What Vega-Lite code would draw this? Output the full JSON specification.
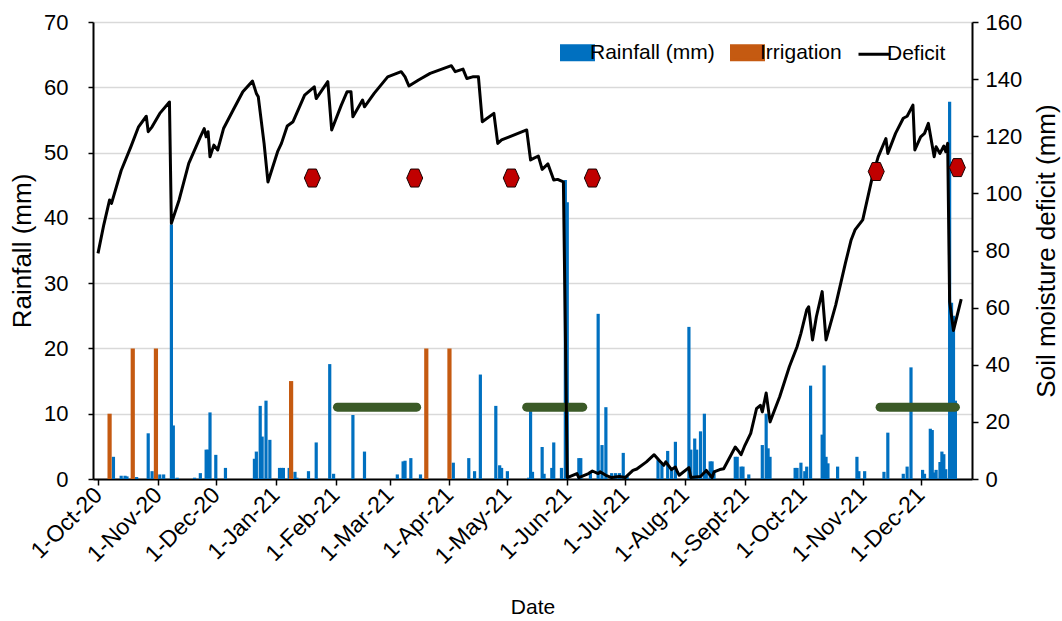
{
  "$schema": "https://vega.github.io/schema/vega-lite/v6.json",
  "width": 879,
  "height": 457,
  "autosize": {"type": "none"},
  "padding": {"left": 93, "top": 22, "right": 90, "bottom": 142},
  "background": "white",
  "config": {
    "font": "Liberation Sans",
    "view": {"stroke": null},
    "axis": {
      "domainColor": "#000000", "domainWidth": 2,
      "tickColor": "#000000", "tickWidth": 1.5, "tickSize": 6,
      "labelColor": "#000000", "labelFont": "Liberation Sans", "labelFontSize": 22,
      "titleFont": "Liberation Sans", "titleFontSize": 26, "titleFontWeight": "normal", "titleColor": "#000000",
      "gridColor": "#D9D9D9", "gridWidth": 1.3
    }
  },
  "datasets": {
    "rain": [
      {"date": "2020-10-09", "mm": 3.4}, {"date": "2020-10-13", "mm": 0.5}, {"date": "2020-10-15", "mm": 0.5},
      {"date": "2020-10-16", "mm": 0.4}, {"date": "2020-10-21", "mm": 0.3}, {"date": "2020-10-27", "mm": 7.0},
      {"date": "2020-10-29", "mm": 1.2}, {"date": "2020-11-02", "mm": 0.7}, {"date": "2020-11-04", "mm": 0.7},
      {"date": "2020-11-08", "mm": 39.0}, {"date": "2020-11-09", "mm": 8.2}, {"date": "2020-11-11", "mm": 0.2},
      {"date": "2020-11-20", "mm": 0.2}, {"date": "2020-11-23", "mm": 0.9}, {"date": "2020-11-26", "mm": 4.5},
      {"date": "2020-11-27", "mm": 4.5}, {"date": "2020-11-28", "mm": 10.2}, {"date": "2020-12-01", "mm": 3.7},
      {"date": "2020-12-06", "mm": 1.7}, {"date": "2020-12-21", "mm": 3.1}, {"date": "2020-12-22", "mm": 4.2},
      {"date": "2020-12-24", "mm": 11.2}, {"date": "2020-12-25", "mm": 6.5}, {"date": "2020-12-27", "mm": 12.0},
      {"date": "2020-12-29", "mm": 6.0}, {"date": "2021-01-03", "mm": 1.7}, {"date": "2021-01-04", "mm": 1.7},
      {"date": "2021-01-05", "mm": 1.7}, {"date": "2021-01-08", "mm": 1.7}, {"date": "2021-01-11", "mm": 1.1},
      {"date": "2021-01-12", "mm": 0.2}, {"date": "2021-01-18", "mm": 1.2}, {"date": "2021-01-22", "mm": 5.6},
      {"date": "2021-01-29", "mm": 17.6}, {"date": "2021-01-31", "mm": 0.8}, {"date": "2021-02-10", "mm": 9.8},
      {"date": "2021-02-16", "mm": 4.2}, {"date": "2021-03-05", "mm": 0.7}, {"date": "2021-03-08", "mm": 2.7},
      {"date": "2021-03-09", "mm": 2.8}, {"date": "2021-03-12", "mm": 3.2}, {"date": "2021-03-17", "mm": 0.7},
      {"date": "2021-04-03", "mm": 2.5}, {"date": "2021-04-11", "mm": 3.2}, {"date": "2021-04-14", "mm": 1.2},
      {"date": "2021-04-17", "mm": 16.0}, {"date": "2021-04-25", "mm": 11.2}, {"date": "2021-04-27", "mm": 2.1},
      {"date": "2021-04-28", "mm": 1.7}, {"date": "2021-05-01", "mm": 1.2}, {"date": "2021-05-12", "mm": 0.2},
      {"date": "2021-05-13", "mm": 10.4}, {"date": "2021-05-14", "mm": 1.1}, {"date": "2021-05-19", "mm": 4.9},
      {"date": "2021-05-20", "mm": 0.8}, {"date": "2021-05-24", "mm": 1.7}, {"date": "2021-05-25", "mm": 5.6},
      {"date": "2021-05-29", "mm": 1.7}, {"date": "2021-05-31", "mm": 45.8}, {"date": "2021-06-01", "mm": 42.4},
      {"date": "2021-06-07", "mm": 3.2}, {"date": "2021-06-08", "mm": 3.2}, {"date": "2021-06-13", "mm": 1.1},
      {"date": "2021-06-17", "mm": 25.3}, {"date": "2021-06-19", "mm": 5.2}, {"date": "2021-06-21", "mm": 11.0},
      {"date": "2021-06-24", "mm": 0.9}, {"date": "2021-06-26", "mm": 0.9}, {"date": "2021-06-28", "mm": 0.9},
      {"date": "2021-06-30", "mm": 4.0}, {"date": "2021-07-02", "mm": 0.4}, {"date": "2021-07-18", "mm": 2.9},
      {"date": "2021-07-20", "mm": 2.3}, {"date": "2021-07-23", "mm": 4.3}, {"date": "2021-07-25", "mm": 1.4},
      {"date": "2021-07-27", "mm": 5.7}, {"date": "2021-08-03", "mm": 23.3}, {"date": "2021-08-04", "mm": 4.5},
      {"date": "2021-08-06", "mm": 6.2}, {"date": "2021-08-07", "mm": 4.5}, {"date": "2021-08-09", "mm": 7.3},
      {"date": "2021-08-11", "mm": 10.0}, {"date": "2021-08-12", "mm": 1.2}, {"date": "2021-08-14", "mm": 2.7},
      {"date": "2021-08-15", "mm": 2.7}, {"date": "2021-08-16", "mm": 1.3}, {"date": "2021-08-27", "mm": 3.4},
      {"date": "2021-08-28", "mm": 3.4}, {"date": "2021-08-30", "mm": 1.9}, {"date": "2021-08-31", "mm": 1.9},
      {"date": "2021-09-03", "mm": 0.7}, {"date": "2021-09-10", "mm": 5.2}, {"date": "2021-09-12", "mm": 10.0},
      {"date": "2021-09-13", "mm": 4.7}, {"date": "2021-09-14", "mm": 3.4}, {"date": "2021-09-27", "mm": 1.7},
      {"date": "2021-09-28", "mm": 1.7}, {"date": "2021-09-30", "mm": 2.5}, {"date": "2021-10-02", "mm": 1.2},
      {"date": "2021-10-03", "mm": 1.9}, {"date": "2021-10-05", "mm": 14.3}, {"date": "2021-10-11", "mm": 6.8},
      {"date": "2021-10-12", "mm": 17.4}, {"date": "2021-10-13", "mm": 3.4}, {"date": "2021-10-14", "mm": 2.4},
      {"date": "2021-10-19", "mm": 1.9}, {"date": "2021-10-29", "mm": 3.4}, {"date": "2021-10-30", "mm": 1.2},
      {"date": "2021-11-02", "mm": 1.2}, {"date": "2021-11-12", "mm": 1.1}, {"date": "2021-11-14", "mm": 7.1},
      {"date": "2021-11-22", "mm": 0.8}, {"date": "2021-11-24", "mm": 1.9}, {"date": "2021-11-26", "mm": 17.1},
      {"date": "2021-12-02", "mm": 1.4}, {"date": "2021-12-03", "mm": 0.8}, {"date": "2021-12-06", "mm": 7.7},
      {"date": "2021-12-07", "mm": 7.5}, {"date": "2021-12-08", "mm": 1.0}, {"date": "2021-12-09", "mm": 1.4},
      {"date": "2021-12-11", "mm": 2.6}, {"date": "2021-12-12", "mm": 4.2}, {"date": "2021-12-13", "mm": 3.8},
      {"date": "2021-12-14", "mm": 1.5}, {"date": "2021-12-16", "mm": 57.8}, {"date": "2021-12-17", "mm": 27.0},
      {"date": "2021-12-18", "mm": 25.0}, {"date": "2021-12-19", "mm": 12.0}
    ],
    "irrigation": [
      {"date": "2020-10-07", "mm": 10}, {"date": "2020-10-19", "mm": 20}, {"date": "2020-10-31", "mm": 20},
      {"date": "2021-01-09", "mm": 15}, {"date": "2021-03-20", "mm": 20}, {"date": "2021-04-01", "mm": 20}
    ],
    "periods": [
      {"date": "2021-02-02", "end": "2021-03-15", "mm": 11},
      {"date": "2021-05-11", "end": "2021-06-09", "mm": 11},
      {"date": "2021-11-10", "end": "2021-12-19", "mm": 11}
    ],
    "markers": [
      {"date": "2021-01-20", "mm": 46.1}, {"date": "2021-03-14", "mm": 46.1}, {"date": "2021-05-03", "mm": 46.1},
      {"date": "2021-06-14", "mm": 46.1}, {"date": "2021-11-08", "mm": 47.1}, {"date": "2021-12-20", "mm": 47.7}
    ],
    "deficit": [
      {"date": "2020-10-01", "deficit": 79}, {"date": "2020-10-04", "deficit": 89}, {"date": "2020-10-07", "deficit": 97.7},
      {"date": "2020-10-08", "deficit": 96.5}, {"date": "2020-10-13", "deficit": 108}, {"date": "2020-10-18", "deficit": 116.3},
      {"date": "2020-10-22", "deficit": 123.3}, {"date": "2020-10-26", "deficit": 127}, {"date": "2020-10-27", "deficit": 121.6},
      {"date": "2020-10-29", "deficit": 123.3}, {"date": "2020-11-02", "deficit": 128}, {"date": "2020-11-07", "deficit": 132},
      {"date": "2020-11-08", "deficit": 89.5}, {"date": "2020-11-12", "deficit": 97.7}, {"date": "2020-11-17", "deficit": 110.5},
      {"date": "2020-11-23", "deficit": 119.8}, {"date": "2020-11-25", "deficit": 122.7}, {"date": "2020-11-26", "deficit": 119.8},
      {"date": "2020-11-27", "deficit": 121.6}, {"date": "2020-11-28", "deficit": 112.8}, {"date": "2020-11-30", "deficit": 116.9},
      {"date": "2020-12-02", "deficit": 115.2}, {"date": "2020-12-05", "deficit": 122.7}, {"date": "2020-12-10", "deficit": 129.2},
      {"date": "2020-12-15", "deficit": 135.6}, {"date": "2020-12-20", "deficit": 139.3}, {"date": "2020-12-22", "deficit": 135},
      {"date": "2020-12-23", "deficit": 133.8}, {"date": "2020-12-26", "deficit": 117.5}, {"date": "2020-12-28", "deficit": 104},
      {"date": "2021-01-02", "deficit": 114.6}, {"date": "2021-01-04", "deficit": 117.5}, {"date": "2021-01-07", "deficit": 123.6},
      {"date": "2021-01-10", "deficit": 125.1}, {"date": "2021-01-16", "deficit": 134.4}, {"date": "2021-01-21", "deficit": 137.3},
      {"date": "2021-01-22", "deficit": 133.2}, {"date": "2021-01-28", "deficit": 139.1}, {"date": "2021-01-30", "deficit": 122.2},
      {"date": "2021-02-04", "deficit": 130.9}, {"date": "2021-02-07", "deficit": 135.6}, {"date": "2021-02-09", "deficit": 135.6},
      {"date": "2021-02-10", "deficit": 126.8}, {"date": "2021-02-15", "deficit": 132.7}, {"date": "2021-02-16", "deficit": 130.3},
      {"date": "2021-02-21", "deficit": 135}, {"date": "2021-02-28", "deficit": 140.8}, {"date": "2021-03-07", "deficit": 142.6},
      {"date": "2021-03-09", "deficit": 140.8}, {"date": "2021-03-11", "deficit": 137.6}, {"date": "2021-03-16", "deficit": 139.7},
      {"date": "2021-03-22", "deficit": 142}, {"date": "2021-04-02", "deficit": 144.7}, {"date": "2021-04-04", "deficit": 142.6},
      {"date": "2021-04-08", "deficit": 143.5}, {"date": "2021-04-10", "deficit": 140.2}, {"date": "2021-04-13", "deficit": 140.8},
      {"date": "2021-04-16", "deficit": 140.8}, {"date": "2021-04-18", "deficit": 125.1}, {"date": "2021-04-24", "deficit": 128},
      {"date": "2021-04-26", "deficit": 117.5}, {"date": "2021-04-28", "deficit": 118.7}, {"date": "2021-05-02", "deficit": 119.8},
      {"date": "2021-05-11", "deficit": 122.2}, {"date": "2021-05-13", "deficit": 111.7}, {"date": "2021-05-17", "deficit": 113.1},
      {"date": "2021-05-19", "deficit": 108.4}, {"date": "2021-05-22", "deficit": 110.3}, {"date": "2021-05-25", "deficit": 104.7},
      {"date": "2021-05-27", "deficit": 104.9}, {"date": "2021-05-30", "deficit": 104}, {"date": "2021-06-01", "deficit": 0.5},
      {"date": "2021-06-06", "deficit": 1.9}, {"date": "2021-06-07", "deficit": 0.5}, {"date": "2021-06-12", "deficit": 1.9},
      {"date": "2021-06-14", "deficit": 2.8}, {"date": "2021-06-17", "deficit": 1.9}, {"date": "2021-06-18", "deficit": 2.5},
      {"date": "2021-06-21", "deficit": 1.3}, {"date": "2021-06-24", "deficit": 0.5}, {"date": "2021-06-28", "deficit": 0.9},
      {"date": "2021-07-01", "deficit": 0.5}, {"date": "2021-07-05", "deficit": 3}, {"date": "2021-07-07", "deficit": 3.5},
      {"date": "2021-07-12", "deficit": 6}, {"date": "2021-07-16", "deficit": 8.5}, {"date": "2021-07-19", "deficit": 6.2},
      {"date": "2021-07-21", "deficit": 4.8}, {"date": "2021-07-22", "deficit": 6}, {"date": "2021-07-25", "deficit": 3.3},
      {"date": "2021-07-27", "deficit": 4.2}, {"date": "2021-07-28", "deficit": 2.5}, {"date": "2021-07-29", "deficit": 1.3},
      {"date": "2021-08-03", "deficit": 4}, {"date": "2021-08-04", "deficit": 0.5}, {"date": "2021-08-09", "deficit": 0.9},
      {"date": "2021-08-12", "deficit": 3}, {"date": "2021-08-15", "deficit": 0.5}, {"date": "2021-08-16", "deficit": 2.5},
      {"date": "2021-08-19", "deficit": 3.3}, {"date": "2021-08-21", "deficit": 3.6}, {"date": "2021-08-27", "deficit": 11.2},
      {"date": "2021-08-29", "deficit": 9.5}, {"date": "2021-08-30", "deficit": 8.5}, {"date": "2021-09-01", "deficit": 11.8},
      {"date": "2021-09-04", "deficit": 16}, {"date": "2021-09-07", "deficit": 24.6}, {"date": "2021-09-09", "deficit": 25.8},
      {"date": "2021-09-10", "deficit": 23.5}, {"date": "2021-09-12", "deficit": 30.1}, {"date": "2021-09-14", "deficit": 20},
      {"date": "2021-09-19", "deficit": 28.8}, {"date": "2021-09-24", "deficit": 39.3}, {"date": "2021-09-28", "deficit": 46.3},
      {"date": "2021-09-30", "deficit": 51}, {"date": "2021-10-03", "deficit": 59.2}, {"date": "2021-10-04", "deficit": 60.3},
      {"date": "2021-10-06", "deficit": 48.7}, {"date": "2021-10-08", "deficit": 56.8}, {"date": "2021-10-11", "deficit": 65.6},
      {"date": "2021-10-13", "deficit": 48.7}, {"date": "2021-10-18", "deficit": 60.9}, {"date": "2021-10-23", "deficit": 75.5},
      {"date": "2021-10-26", "deficit": 83.7}, {"date": "2021-10-28", "deficit": 87.2}, {"date": "2021-11-01", "deficit": 90.7},
      {"date": "2021-11-06", "deficit": 105.8}, {"date": "2021-11-09", "deficit": 112.8}, {"date": "2021-11-13", "deficit": 119.2},
      {"date": "2021-11-14", "deficit": 114}, {"date": "2021-11-18", "deficit": 121}, {"date": "2021-11-22", "deficit": 126.3},
      {"date": "2021-11-24", "deficit": 127}, {"date": "2021-11-27", "deficit": 130.9}, {"date": "2021-11-28", "deficit": 115.2},
      {"date": "2021-12-01", "deficit": 119.8}, {"date": "2021-12-03", "deficit": 121}, {"date": "2021-12-05", "deficit": 124.5},
      {"date": "2021-12-08", "deficit": 112.8}, {"date": "2021-12-09", "deficit": 116.3}, {"date": "2021-12-11", "deficit": 114},
      {"date": "2021-12-13", "deficit": 116.6}, {"date": "2021-12-14", "deficit": 114.6}, {"date": "2021-12-15", "deficit": 117.5},
      {"date": "2021-12-16", "deficit": 62}, {"date": "2021-12-18", "deficit": 52}, {"date": "2021-12-22", "deficit": 63}
    ]
  },
  "encoding": {
    "x": {
      "field": "date", "type": "temporal",
      "scale": {"type": "utc", "domain": [{"year": 2020, "month": 10, "date": 1, "utc": true}, {"year": 2021, "month": 12, "date": 25, "utc": true}]},
      "axis": {
        "title": "Date", "titleFontSize": 21, "titleY": 128, "titleBaseline": "middle",
        "grid": false,
        "values": [
          {"year": 2020, "month": 10, "date": 1, "utc": true}, {"year": 2020, "month": 11, "date": 1, "utc": true},
          {"year": 2020, "month": 12, "date": 1, "utc": true}, {"year": 2021, "month": 1, "date": 1, "utc": true},
          {"year": 2021, "month": 2, "date": 1, "utc": true}, {"year": 2021, "month": 3, "date": 1, "utc": true},
          {"year": 2021, "month": 4, "date": 1, "utc": true}, {"year": 2021, "month": 5, "date": 1, "utc": true},
          {"year": 2021, "month": 6, "date": 1, "utc": true}, {"year": 2021, "month": 7, "date": 1, "utc": true},
          {"year": 2021, "month": 8, "date": 1, "utc": true}, {"year": 2021, "month": 9, "date": 1, "utc": true},
          {"year": 2021, "month": 10, "date": 1, "utc": true}, {"year": 2021, "month": 11, "date": 1, "utc": true},
          {"year": 2021, "month": 12, "date": 1, "utc": true}
        ],
        "labelExpr": "'1-' + (utcmonth(datum.value) == 8 ? 'Sept' : utcFormat(datum.value, '%b')) + '-' + utcFormat(datum.value, '%y')",
        "labelAngle": -45, "labelAlign": "right", "labelBaseline": "middle", "labelPadding": 6, "labelFontSize": 23,
        "labelOverlap": false, "labelFlush": false
      }
    }
  },
  "layer": [
    {
      "layer": [
        {
          "data": {"name": "rain"},
          "mark": {"type": "bar", "size": 3.2},
          "encoding": {
            "y": {
              "field": "mm", "type": "quantitative",
              "scale": {"domain": [0, 70], "nice": false},
              "axis": {
                "title": "Rainfall (mm)", "values": [0, 10, 20, 30, 40, 50, 60, 70], "grid": true,
                "tickSize": 5, "labelPadding": 20,
                "titleX": -71, "titleY": 228.5, "titleAngle": 270, "titleBaseline": "middle", "titleAlign": "center"
              }
            },
            "color": {
              "datum": "Rainfall (mm)", "type": "nominal",
              "scale": {"domain": ["Rainfall (mm)", "Irrigation", "Deficit"], "range": ["#0070C0", "#C55A11", "#000000"]},
              "legend": {
                "title": null, "orient": "none", "legendX": 474, "legendY": 20, "direction": "horizontal",
                "padding": 0, "columnPadding": 10, "labelOffset": 2,
                "labelFont": "Liberation Sans", "labelFontSize": 21, "labelColor": "#000000",
                "symbolSize": 1024,
                "encode": {
                  "symbols": {
                    "enter": {
                      "shape": {"signal": "datum.value === 'Deficit' ? 'M-1,0L1,0' : 'M-1,-0.44L1,-0.44L1,0.44L-1,0.44Z'"},
                      "fill": {"signal": "datum.value === 'Deficit' ? 'transparent' : (datum.value === 'Irrigation' ? '#ED7D31' : '#0070C0')"},
                      "stroke": {"signal": "datum.value === 'Deficit' ? '#000000' : (datum.value === 'Irrigation' ? '#C55A11' : '#0070C0')"},
                      "strokeWidth": {"signal": "datum.value === 'Deficit' ? 3 : 3"}
                    },
                    "update": {
                      "shape": {"signal": "datum.value === 'Deficit' ? 'M-1,0L1,0' : 'M-1,-0.44L1,-0.44L1,0.44L-1,0.44Z'"},
                      "fill": {"signal": "datum.value === 'Deficit' ? 'transparent' : (datum.value === 'Irrigation' ? '#ED7D31' : '#0070C0')"},
                      "stroke": {"signal": "datum.value === 'Deficit' ? '#000000' : (datum.value === 'Irrigation' ? '#C55A11' : '#0070C0')"},
                      "strokeWidth": {"signal": "datum.value === 'Deficit' ? 3 : 3"},
                      "opacity": {"value": 1}
                    }
                  }
                }
              }
            }
          }
        },
        {
          "data": {"name": "irrigation"},
          "mark": {"type": "bar", "size": 4.2, "color": "#C55A11"},
          "encoding": {"y": {"field": "mm", "type": "quantitative"}}
        },
        {
          "data": {"name": "periods"},
          "mark": {"type": "rule", "strokeWidth": 9, "strokeCap": "round", "color": "#3B5A27"},
          "encoding": {"x2": {"field": "end"}, "y": {"field": "mm", "type": "quantitative"}}
        }
      ]
    },
    {
      "data": {"name": "deficit"},
      "mark": {"type": "line", "color": "#000000", "strokeWidth": 3, "strokeJoin": "round"},
      "encoding": {
        "y": {
          "field": "deficit", "type": "quantitative",
          "scale": {"domain": [0, 160], "nice": false},
          "axis": {
            "orient": "right", "title": "Soil moisture deficit (mm)", "values": [0, 20, 40, 60, 80, 100, 120, 140, 160],
            "grid": false, "tickSize": 6, "labelPadding": 7,
            "titleX": 74, "titleY": 228.5, "titleAngle": 270, "titleBaseline": "middle", "titleAlign": "center"
          }
        }
      }
    },
    {
      "data": {"name": "markers"},
      "mark": {"type": "point", "filled": true, "shape": "M-0.89,0L-0.45,-1L0.45,-1L0.89,0L0.45,1L-0.45,1Z", "size": 324, "fill": "#C00000", "stroke": "#1A0000", "strokeWidth": 1, "opacity": 1},
      "encoding": {
        "y": {"field": "mm", "type": "quantitative", "scale": {"domain": [0, 70], "nice": false}, "axis": null}
      }
    }
  ],
  "resolve": {"scale": {"y": "independent"}}
}
